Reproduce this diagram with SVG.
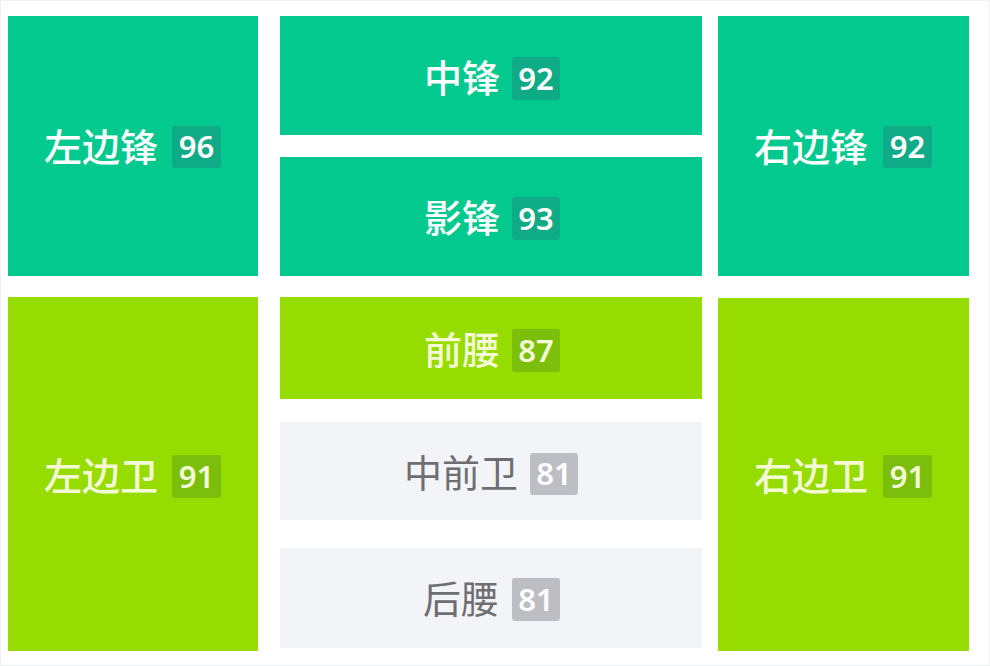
<svg xmlns="http://www.w3.org/2000/svg" width="990" height="666" viewBox="0 0 990 666">
<style>
.teal{fill:#03C98F}
.lime{fill:#96DC00}
.gray{fill:#F3F4F7}
.bt{fill:#0FAA86}
.bl{fill:#7BBF0C}
.bg{fill:#BDBEC3}
.lab{font-family:"Noto Sans CJK SC","Noto Sans",sans-serif;font-size:38px;font-weight:500;dominant-baseline:central}
.w{fill:#FFFFFF}
.y{fill:#F4FAD6}
.g{fill:#6E6E72;font-weight:400}
.num{font-family:"Noto Sans","Noto Sans CJK SC",sans-serif;font-size:31px;font-weight:600;fill:#FFFFFF;text-anchor:middle;dominant-baseline:central}
.ny{fill:#F4FAD6}
</style>
<rect x="0" y="0" width="990" height="666" fill="#FFFFFF"/>
<rect x="0.5" y="0.5" width="989" height="665" fill="none" stroke="#F0F1F3"/>
<g id="node-left-winger">
<rect class="teal" x="8" y="16" width="250" height="260"/>
<text class="lab w" x="44" y="144">左边锋</text>
<rect class="bt" x="172" y="126" width="49" height="42" rx="3"/>
<text class="num" x="196.5" y="146">96</text>
</g>
<g id="node-striker">
<rect class="teal" x="280" y="16" width="422" height="119"/>
<text class="lab w" x="424" y="75">中锋</text>
<rect class="bt" x="512" y="57" width="48" height="43" rx="3"/>
<text class="num" x="536" y="77.5">92</text>
</g>
<g id="node-second-striker">
<rect class="teal" x="280" y="157" width="422" height="119"/>
<text class="lab w" x="424" y="215">影锋</text>
<rect class="bt" x="512" y="197" width="48" height="43" rx="3"/>
<text class="num" x="536" y="217.5">93</text>
</g>
<g id="node-right-winger">
<rect class="teal" x="718" y="16" width="251" height="260"/>
<text class="lab w" x="754" y="144">右边锋</text>
<rect class="bt" x="883" y="126" width="49" height="42" rx="3"/>
<text class="num" x="907.5" y="146">92</text>
</g>
<g id="node-left-back">
<rect class="lime" x="8" y="297" width="250" height="354"/>
<text class="lab y" x="44" y="473">左边卫</text>
<rect class="bl" x="172" y="455" width="49" height="43" rx="3"/>
<text class="num ny" x="196.5" y="475.5">91</text>
</g>
<g id="node-attacking-mid">
<rect class="lime" x="280" y="297" width="422" height="102"/>
<text class="lab y" x="424" y="347">前腰</text>
<rect class="bl" x="512" y="329" width="48" height="43" rx="3"/>
<text class="num ny" x="536" y="349.5">87</text>
</g>
<g id="node-central-mid">
<rect class="gray" x="280" y="422" width="422" height="98"/>
<text class="lab g" x="404" y="470">中前卫</text>
<rect class="bg" x="530" y="453" width="48" height="42" rx="3"/>
<text class="num" x="554" y="473">81</text>
</g>
<g id="node-defensive-mid">
<rect class="gray" x="280" y="548" width="422" height="100"/>
<text class="lab g" x="423" y="596">后腰</text>
<rect class="bg" x="512" y="578" width="48" height="43" rx="3"/>
<text class="num" x="536" y="598.5">81</text>
</g>
<g id="node-right-back">
<rect class="lime" x="718" y="298" width="251" height="353"/>
<text class="lab y" x="754" y="473">右边卫</text>
<rect class="bl" x="883" y="455" width="49" height="43" rx="3"/>
<text class="num ny" x="907.5" y="475.5">91</text>
</g>
<g id="connectors"></g>
</svg>
